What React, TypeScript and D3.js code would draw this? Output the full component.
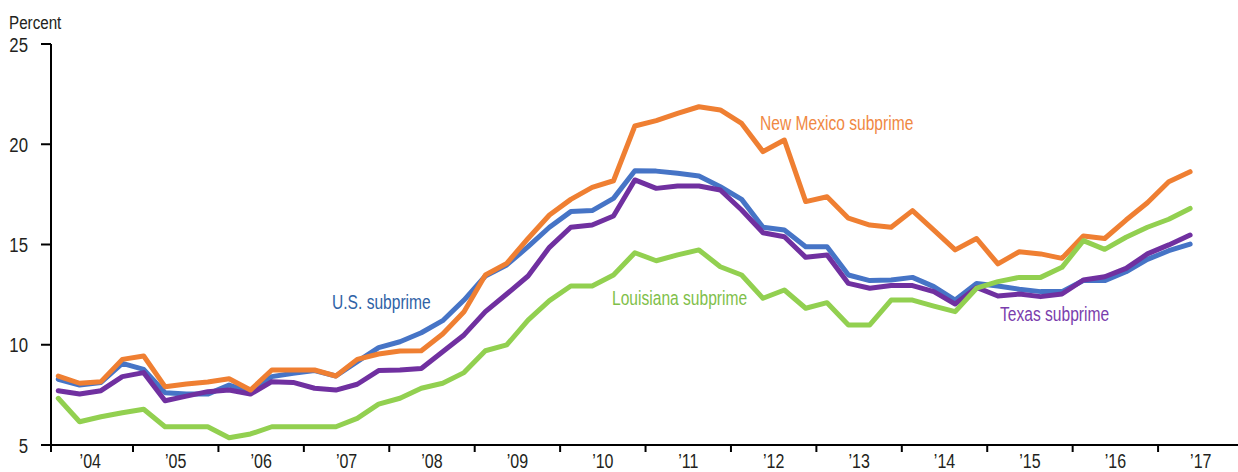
import React from "react";
import * as d3 from "d3";

// Quarterly observations, 2004Q1 .. 2017Q2
const quarters: string[] = [];
for (let y = 2004; y <= 2017; y++) {
  for (let q = 1; q <= 4; q++) {
    if (y === 2017 && q > 2) break;
    quarters.push(`${y}Q${q}`);
  }
}

const usSubprime = [
  8.28, 7.99, 8.12, 9.07, 8.77, 7.61, 7.54, 7.54, 7.99, 7.66, 8.41, 8.58, 8.71, 8.44,
  9.16, 9.86, 10.15, 10.6, 11.2, 12.23, 13.43, 13.98, 14.89, 15.86, 16.64, 16.69, 17.3,
  18.68, 18.66, 18.55, 18.42, 17.88, 17.25, 15.86, 15.72, 14.89, 14.89, 13.48, 13.2,
  13.23, 13.36, 12.9, 12.23, 13.06, 12.93, 12.77, 12.65, 12.65, 13.2, 13.2, 13.64,
  14.26, 14.69, 15.02,
];
const newMexicoSubprime = [
  8.44, 8.08, 8.16, 9.27, 9.44, 7.91, 8.04, 8.14, 8.3, 7.74, 8.74, 8.74, 8.74, 8.44,
  9.27, 9.54, 9.69, 9.7, 10.54, 11.65, 13.48, 14.06, 15.3, 16.47, 17.25, 17.85, 18.18,
  20.91, 21.18, 21.54, 21.87, 21.71, 21.04, 19.63, 20.21, 17.14, 17.38, 16.31, 15.97,
  15.86, 16.69, 15.72, 14.73, 15.3, 14.03, 14.64, 14.53, 14.31, 15.42, 15.3, 16.22,
  17.08, 18.13, 18.63,
];
const texasSubprime = [
  7.71, 7.54, 7.71, 8.41, 8.61, 7.21, 7.44, 7.66, 7.74, 7.54, 8.16, 8.12, 7.83, 7.74,
  8.03, 8.71, 8.74, 8.82, 9.65, 10.49, 11.65, 12.53, 13.43, 14.86, 15.86, 15.97, 16.42,
  18.22, 17.8, 17.92, 17.92, 17.72, 16.72, 15.59, 15.39, 14.36, 14.48, 13.06, 12.82,
  12.95, 12.95, 12.65, 12.03, 12.86, 12.43, 12.53, 12.4, 12.53, 13.23, 13.39, 13.81,
  14.53, 14.98, 15.47,
];
const louisianaSubprime = [
  7.33, 6.16, 6.41, 6.61, 6.78, 5.91, 5.91, 5.91, 5.36, 5.55, 5.91, 5.91, 5.91, 5.91,
  6.33, 7.04, 7.33, 7.83, 8.08, 8.61, 9.7, 9.99, 11.23, 12.2, 12.93, 12.93, 13.48,
  14.59, 14.19, 14.48, 14.73, 13.89, 13.48, 12.32, 12.73, 11.82, 12.1, 10.99, 10.99,
  12.23, 12.23, 11.93, 11.65, 12.82, 13.15, 13.36, 13.36, 13.86, 15.19, 14.76, 15.36,
  15.86, 16.26, 16.8,
];

const yTicks = [5, 10, 15, 20, 25];
const yearTicks = [2005, 2006, 2007, 2008, 2009, 2010, 2011, 2012, 2013, 2014, 2015, 2016, 2017];
const yearLabels = ["’04", "’05", "’06", "’07", "’08", "’09", "’10", "’11", "’12", "’13", "’14", "’15", "’16", "’17"];
const labelYears = [2004, 2005, 2006, 2007, 2008, 2009, 2010, 2011, 2012, 2013, 2014, 2015, 2016, 2017];

const series = [
  { name: "U.S. subprime", values: usSubprime, color: "#4674C6", labelColor: "#2F62A6", lx: 332, ly: 308.5 },
  { name: "Texas subprime", values: texasSubprime, color: "#7030A0", labelColor: "#7A3DAD", lx: 1000, ly: 320.5 },
  { name: "New Mexico subprime", values: newMexicoSubprime, color: "#EF7F32", labelColor: "#F08843", lx: 760, ly: 130 },
  { name: "Louisiana subprime", values: louisianaSubprime, color: "#92D050", labelColor: "#7FBF4A", lx: 612, ly: 304.5 },
];

const W = 1238;
const H = 472;
const FONT = "'Liberation Sans', Arial, sans-serif";
const SX = 0.8;

function NText(props: { x: number; y: number; size: number; fill: string; anchor?: string; dy?: string; children: React.ReactNode }) {
  return (
    <text
      transform={`translate(${props.x},${props.y}) scale(${SX},1)`}
      fontSize={props.size}
      fill={props.fill}
      textAnchor={props.anchor || "start"}
      dy={props.dy}
    >
      {props.children}
    </text>
  );
}

export default function App() {
  const x = d3.scaleLinear().domain([2004.04, 2018]).range([51, 1243.5]);
  const y = d3.scaleLinear().domain([5, 25]).range([445, 44]);
  const qx = (i: number) => {
    const [yr, q] = quarters[i].split("Q").map(Number);
    return yr + (q - 0.5) / 4;
  };
  const line = d3
    .line<number>()
    .x((_, i) => x(qx(i)))
    .y((d) => y(d))
    .curve(d3.curveLinear);

  const x0 = x(2004.04);
  const y0 = y(5);

  return (
    <svg width={W} height={H} style={{ position: "absolute", left: 0, top: 0, background: "#fff" }} fontFamily={FONT}>
      <NText x={9} y={29} size={19} fill="#231F20">Percent</NText>
      {yTicks.map((t) => (
        <g key={t}>
          <line x1={x0 - 10} x2={x0} y1={y(t)} y2={y(t)} stroke="#000" strokeWidth={2} />
          <NText x={28} y={y(t)} dy="0.36em" anchor="end" size={21} fill="#231F20">{t}</NText>
        </g>
      ))}
      {yearTicks.map((t) => (
        <line key={t} x1={x(t)} x2={x(t)} y1={y0} y2={y0 + 7} stroke="#000" strokeWidth={2} />
      ))}
      {labelYears.map((yr, i) => (
        <NText key={yr} x={x(yr + 0.5)} y={468} anchor="middle" size={20} fill="#231F20">{yearLabels[i]}</NText>
      ))}
      {series.map((s) => (
        <path key={s.name} d={line(s.values) || ""} fill="none" stroke={s.color} strokeWidth={5} strokeLinejoin="round" strokeLinecap="round" />
      ))}
      <line x1={x0} x2={x0} y1={y(25)} y2={y0 + 7} stroke="#000" strokeWidth={2} />
      <line x1={x0} x2={W} y1={y0} y2={y0} stroke="#000" strokeWidth={2} />
      {series.map((s) => (
        <NText key={s.name + "l"} x={s.lx} y={s.ly} size={19.5} fill={s.labelColor}>{s.name}</NText>
      ))}
    </svg>
  );
}
